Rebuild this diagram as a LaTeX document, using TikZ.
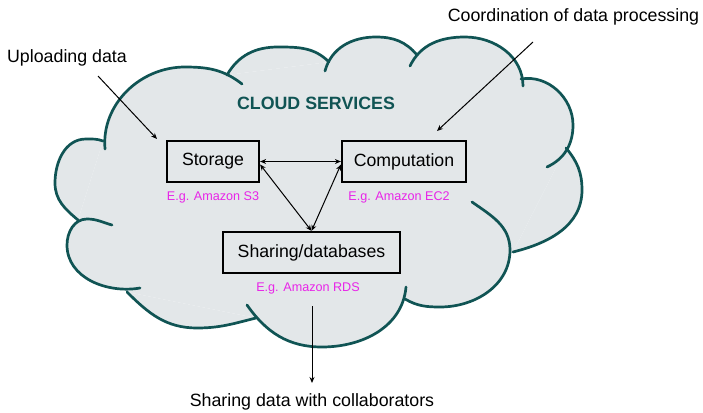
\documentclass[tikz,border=0pt]{standalone}
\usepackage{fontspec}
\setmainfont{Liberation Sans}
\usetikzlibrary{arrows.meta}
\definecolor{cloudfill}{RGB}{227,231,233}
\definecolor{cloudline}{RGB}{16,84,84}
\definecolor{eg}{RGB}{232,36,232}
\tikzset{
  lobe/.style={draw=cloudline, line width=2.7pt, line cap=round, line join=round},
  boxnode/.style={draw=black, line width=2.2pt, fill=cloudfill, inner sep=0pt, minimum height=41pt, font=\fontsize{17.7}{20}\selectfont},
  egtext/.style={text=eg, inner sep=0pt, font=\fontsize{12.6}{14}\selectfont},
  plain/.style={inner sep=0pt, font=\fontsize{17.8}{20}\selectfont},
  arr/.style={line width=1pt, -{Stealth[length=6pt,width=5pt]}},
  darr/.style={line width=1pt, {Stealth[length=6pt,width=5pt]}-{Stealth[length=6pt,width=5pt]}}
}
\begin{document}
\begin{tikzpicture}[x=1pt,y=-1pt]
\useasboundingbox (0,0) rectangle (703,412);
% ---- cloud fill ----
\fill[cloudfill] (78,220) -- (103,141) -- (227,75) -- (329,62) -- (417,55) -- (521,79)
  -- (566,148) -- (513,252) -- (405,299) -- (256,318) -- (127,292) -- cycle;
\fill[cloudfill] (78,220) to[out=140,in=-90] (55,183) to[out=90,in=180] (86,139) to[out=0,in=160] (103,141) -- cycle;
\fill[cloudfill] (105,149) to[out=95,in=180] (185,67) to[out=0,in=142] (242,84) -- cycle;
\fill[cloudfill] (227,75) to[out=60,in=180] (278,47) to[out=0,in=135] (329,62) -- cycle;
\fill[cloudfill] (325,71) to[out=75,in=180] (376,37) to[out=0,in=130] (417,55) -- cycle;
\fill[cloudfill] (410,66) to[out=64,in=180] (465,37) to[out=0,in=90] (523,86) -- cycle;
\fill[cloudfill] (521,79) to[out=10,in=90] (573,125) to[out=-90,in=25] (547,167) -- cycle;
\fill[cloudfill] (566,148) to[out=-50,in=90] (582,190) to[out=-90,in=14] (513,252) -- cycle;
\fill[cloudfill] (472,202) to[out=-35,in=90] (510,250) to[out=-90,in=0] (440,307) to[out=180,in=-30] (405,299) -- cycle;
\fill[cloudfill] (406,287) to[out=-95,in=0] (322,347) to[out=180,in=-55] (247,305) -- cycle;
\fill[cloudfill] (256,318) to[out=194,in=0] (197,328) to[out=180,in=-45] (127,292) -- cycle;
\fill[cloudfill] (140,288) to[out=190,in=-90] (67,245) to[out=90,in=180] (87,219) to[out=0,in=165] (112,225) -- cycle;
% ---- cloud lobes ----
\draw[lobe] (78,220) to[out=140,in=-90] (55,183) to[out=90,in=180] (86,139) to[out=0,in=160] (103,141);
\draw[lobe] (105,149) to[out=95,in=180] (185,67) to[out=0,in=142] (242,84);
\draw[lobe] (227,75) to[out=60,in=180] (278,47) to[out=0,in=135] (329,62);
\draw[lobe] (325,71) to[out=75,in=180] (376,37) to[out=0,in=130] (417,55);
\draw[lobe] (410,66) to[out=64,in=180] (465,37) to[out=0,in=90] (523,86);
\draw[lobe] (521,79) to[out=10,in=90] (573,125) to[out=-90,in=25] (547,167);
\draw[lobe] (566,148) to[out=-50,in=90] (582,190) to[out=-90,in=14] (513,252);
\draw[lobe] (472,202) to[out=-35,in=90] (510,250) to[out=-90,in=0] (440,307) to[out=180,in=-30] (405,299);
\draw[lobe] (406,287) to[out=-95,in=0] (322,347) to[out=180,in=-55] (247,305);
\draw[lobe] (256,318) to[out=194,in=0] (197,328) to[out=180,in=-45] (127,292);
\draw[lobe] (140,288) to[out=190,in=-90] (67,245) to[out=90,in=180] (87,219) to[out=0,in=165] (112,225);
% title
\node[inner sep=0pt, text=cloudline, font=\fontsize{17.8}{20}\selectfont\bfseries] (title) at (316,103) {CLOUD SERVICES};
% boxes
\node[boxnode, minimum width=92pt] (storage) at (213,161.5) {Storage};
\node[boxnode, minimum width=124pt] (comp) at (404,161.5) {Computation};
\node[boxnode, minimum width=177pt] (sharing) at (311.5,252.5) {Sharing/databases};
% example labels
\node[egtext] (s3) at (213,197) {E.g. Amazon S3};
\node[egtext] (ec2) at (399,197) {E.g. Amazon EC2};
\node[egtext] (rds) at (308,288) {E.g. Amazon RDS};
% outside texts
\node[plain] (upl) at (67,58) {Uploading data};
\node[plain] (coord) at (573.5,17) {Coordination of data processing};
\node[plain] (share) at (312,402) {Sharing data with collaborators};
% free ends
\coordinate (uplstart) at (98,76);
\coordinate (uplend) at (157,139);
\coordinate (coordstart) at (533,42);
\coordinate (coordend) at (437,131);
\coordinate (sharestart) at (312,306);
\coordinate (shareend) at (312,383);
% arrows
\draw[arr] (uplstart) -- (uplend);
\draw[arr] (coordstart) -- (coordend);
\draw[arr] (sharestart) -- (shareend);
\draw[darr] (storage.east) -- (comp.west);
\draw[darr] ([yshift=-3pt]storage.east) -- (sharing.north);
\draw[darr] ([yshift=-3pt]comp.west) -- (sharing.north);
\end{tikzpicture}
\end{document}
